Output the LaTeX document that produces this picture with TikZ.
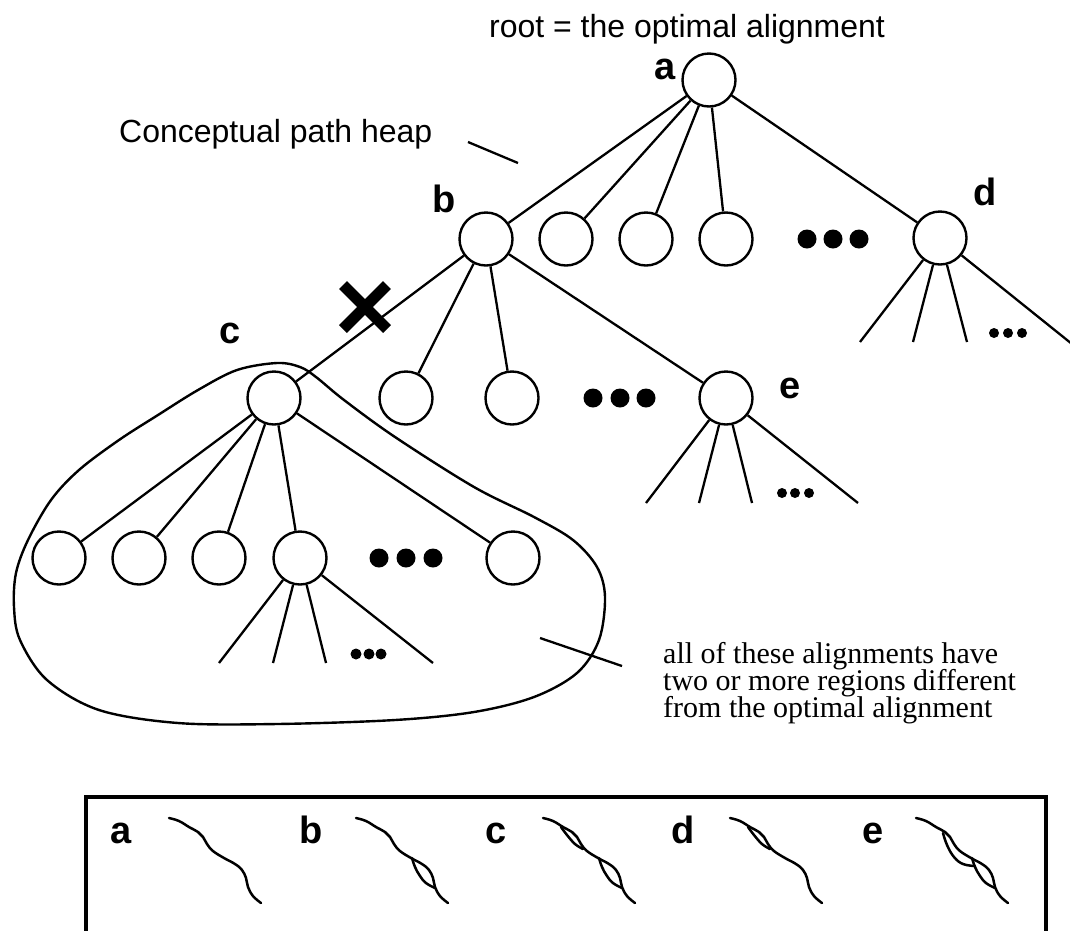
\documentclass[tikz,border=0pt]{standalone}
\usepackage{fontspec}
\setmainfont{Liberation Serif}
\setsansfont{Liberation Sans}
\begin{document}
\begin{tikzpicture}[x=1pt,y=-1pt,
  hn/.style={circle, draw, line width=2.4pt, minimum size=53pt, inner sep=0pt},
  edge/.style={line width=2.3pt},
  lbl/.style={font=\sffamily\bfseries\fontsize{38}{38}\selectfont, anchor=base, inner sep=0pt},
  note/.style={font=\sffamily\fontsize{32}{32}\selectfont, inner sep=0pt},
  bigdot/.style={circle, fill, minimum size=19pt, inner sep=0pt},
  smalldot/.style={circle, fill, minimum size=10pt, inner sep=0pt},
  wig/.style={line width=2.5pt, line cap=round},
  aln/.pic={\draw[wig] plot[smooth, tension=0.7] coordinates
     {(0,0) (10,3) (20,9) (29,14) (34,19) (38,26) (44,33) (55,40) (66,46) (73,52) (77,60) (79,69) (84,78) (92,85)};},
  eyetop/.pic={\draw[wig] plot[smooth, tension=0.7] coordinates
     {(18,9) (24,17) (32,26) (40,31)};},
  eyelow/.pic={\draw[wig] plot[smooth, tension=0.7] coordinates
     {(56,40) (59,49) (64,58) (70,65) (79,70)};},
  eyewide/.pic={\draw[wig] plot[smooth, tension=0.7] coordinates
     {(27,15) (31,27) (38,39) (47,46) (59,48)};}
]
\useasboundingbox (0,0) rectangle (1070,930);

% captions
\node[note, anchor=base] (title) at (687,37) {root = the optimal alignment};
\node[note, anchor=base west] (heap) at (119,142) {Conceptual path heap};
\coordinate (hl1) at (468,142);
\coordinate (hl2) at (518,163);
\draw[edge] (hl1) -- (hl2);

% level 0 and 1
\node[hn] (a) at (709,80) {};
\node[hn] (b) at (486,239) {};
\node[hn] (n1) at (566,239) {};
\node[hn] (n2) at (646,239) {};
\node[hn] (n3) at (726,239) {};
\node[bigdot] (p1) at (807,239) {};
\node[bigdot] (p2) at (833,239) {};
\node[bigdot] (p3) at (859,239) {};
\node[hn] (d) at (940,238) {};
\foreach \t in {b,n1,n2,n3,d} \draw[edge] (a) -- (\t);

\node[lbl] (la) at (665,79) {a};
\node[lbl] (lb) at (444,212) {b};
\node[lbl] (ld) at (985,205) {d};

% subtree under d
\coordinate (d1) at (860,342);
\coordinate (d2) at (913,342);
\coordinate (d3) at (967,342);
\coordinate (d4) at (1072,344);
\foreach \t in {d1,d2,d3,d4} \draw[edge] (d) -- (\t);
\node[smalldot] (q1) at (994,333) {};
\node[smalldot] (q2) at (1008,333) {};
\node[smalldot] (q3) at (1022,333) {};

% level 2
\node[hn] (c) at (274,398) {};
\node[hn] (m1) at (406,398) {};
\node[hn] (m2) at (512,398) {};
\node[bigdot] (r1) at (593,398) {};
\node[bigdot] (r2) at (620,398) {};
\node[bigdot] (r3) at (646,398) {};
\node[hn] (e) at (726,398) {};
\foreach \t in {c,m1,m2,e} \draw[edge] (b) -- (\t);
\node[lbl] (lc) at (230,343) {c};
\node[lbl] (le) at (790,398) {e};

% pruned edge
\coordinate (x0) at (365,307);
\draw[line width=11pt] ([shift={(-22,-22)}]x0) -- ([shift={(22,22)}]x0);
\draw[line width=11pt] ([shift={(22,-22)}]x0) -- ([shift={(-22,22)}]x0);

% subtree under e
\coordinate (e1) at (646,503);
\coordinate (e2) at (699,503);
\coordinate (e3) at (752,503);
\coordinate (e4) at (858,503);
\foreach \t in {e1,e2,e3,e4} \draw[edge] (e) -- (\t);
\node[smalldot] (s1) at (782,493) {};
\node[smalldot] (s2) at (795,493) {};
\node[smalldot] (s3) at (809,493) {};

% level 3 under c
\node[hn] (k1) at (59,558) {};
\node[hn] (k2) at (139,558) {};
\node[hn] (k3) at (219,558) {};
\node[hn] (k4) at (300,558) {};
\node[bigdot] (t1) at (379,558) {};
\node[bigdot] (t2) at (406,558) {};
\node[bigdot] (t3) at (433,558) {};
\node[hn] (k5) at (513,558) {};
\foreach \t in {k1,k2,k3,k4,k5} \draw[edge] (c) -- (\t);

\coordinate (k41) at (219,663);
\coordinate (k42) at (273,663);
\coordinate (k43) at (326,663);
\coordinate (k44) at (433,663);
\foreach \t in {k41,k42,k43,k44} \draw[edge] (k4) -- (\t);
\node[smalldot, minimum size=11pt] (u1) at (356,654) {};
\node[smalldot, minimum size=11pt] (u2) at (369,654) {};
\node[smalldot, minimum size=11pt] (u3) at (381,654) {};

% region enclosing the subtree of c
\draw[line width=2.4pt] plot[smooth cycle, tension=0.55] coordinates {
  (277,363) (237,370) (198,390) (158,415) (119,440) (79,470) (51,500)
  (28,540) (16,573) (14,607) (20,640) (47,680) (99,710) (178,723)
  (277,724) (395,720) (474,712) (534,697) (577,673) (599,640) (605,597)
  (597,567) (573,540) (534,517) (474,487) (395,437) (344,400) (316,377)
  (300,367)};
\coordinate (bl1) at (540,638);
\coordinate (bl2) at (622,666);
\draw[edge] (bl1) -- (bl2);
\node[font={\fontsize{30}{27}\selectfont\lineskiplimit=-40pt}, align=left, anchor=north west, inner sep=0pt] (desc) at (663,642)
  {all of these alignments have\\two or more regions different\\from the optimal alignment};

% legend box with the alignment paths
\draw[line width=3.4pt] (86,935) -- (86,797) -- (1046,797) -- (1046,935);
\node[lbl] (ka) at (121,843) {a};
\node[lbl] (kb) at (311,843) {b};
\node[lbl] (kc) at (496,843) {c};
\node[lbl] (kd) at (683,843) {d};
\node[lbl] (ke) at (873,843) {e};
\pic at (169,818) {aln};
\pic at (356,818) {aln};
\pic at (356,818) {eyelow};
\pic at (543,818) {aln};
\pic at (543,818) {eyetop};
\pic at (543,818) {eyelow};
\pic at (730,818) {aln};
\pic at (730,818) {eyetop};
\pic at (916,818) {aln};
\pic at (916,818) {eyewide};
\pic at (916,818) {eyelow};
\end{tikzpicture}
\end{document}
